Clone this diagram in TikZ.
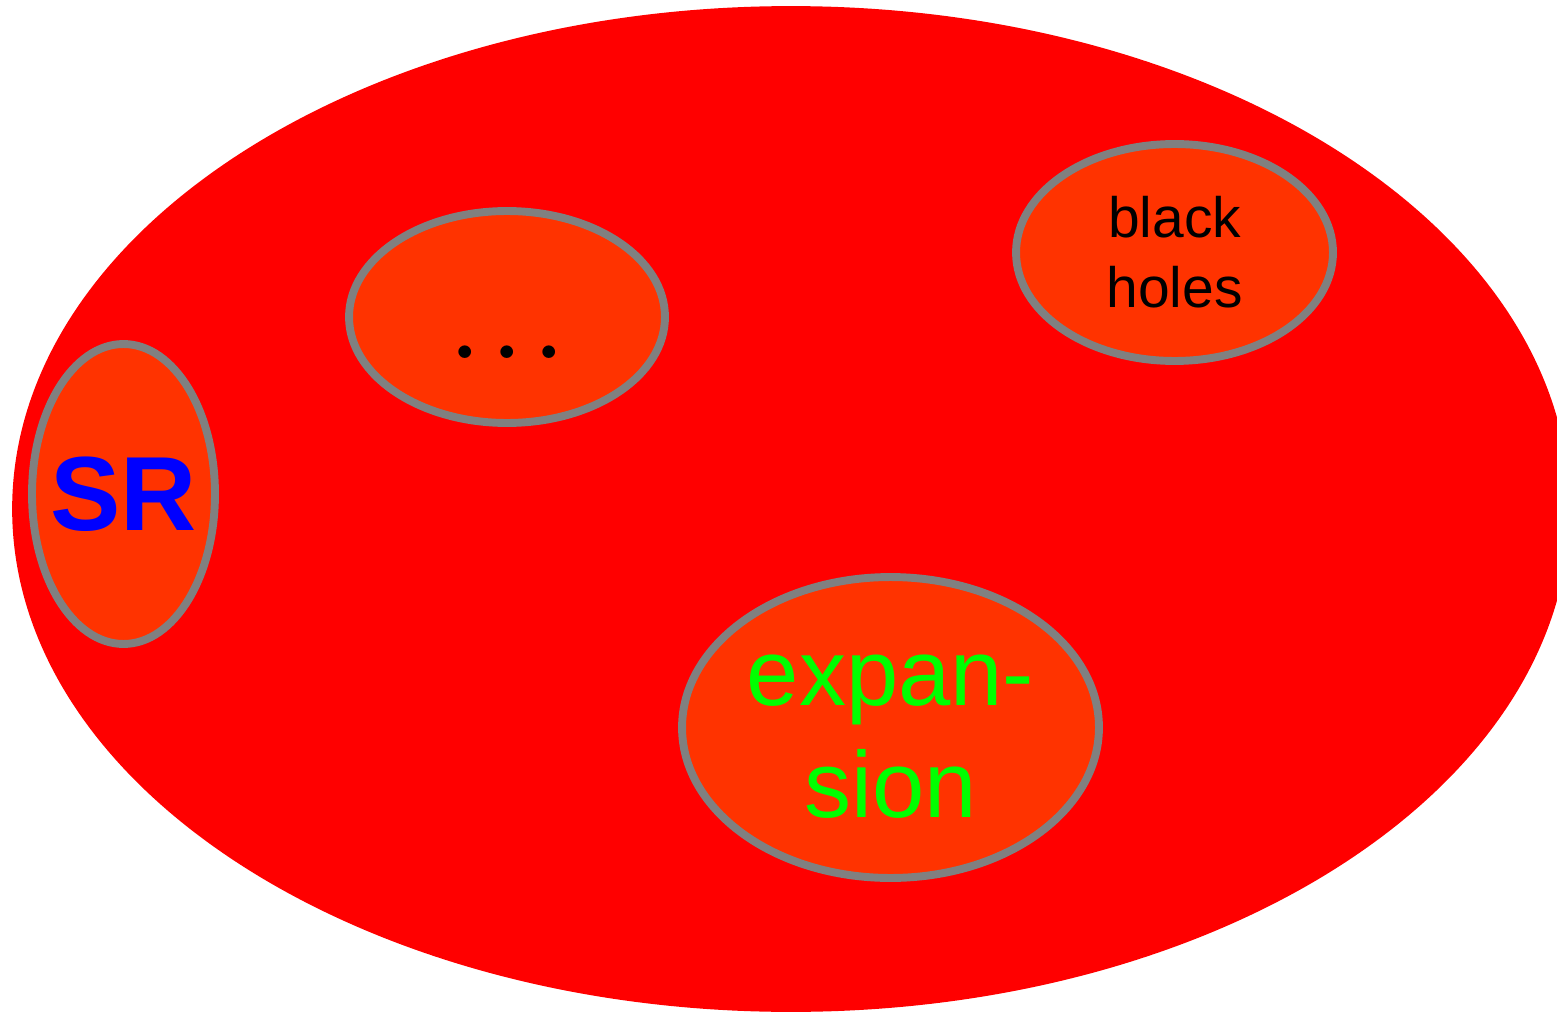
\documentclass[tikz,border=0pt]{standalone}
\usepackage{fontspec}
\setmainfont{Liberation Sans}
\newfontfamily\dotsfont{Latin Modern Roman}
\usetikzlibrary{shapes.geometric}

\definecolor{setred}{HTML}{FF0000}
\definecolor{subsetfill}{HTML}{FF3300}

\begin{document}
\begin{tikzpicture}[
  x=0.02cm, y=-0.02cm,
  universe/.style={ellipse, fill=setred, inner sep=0pt, minimum width=31.16cm, minimum height=20.12cm},
  subset/.style={ellipse, draw=gray, fill=subsetfill, line width=4.5pt, inner sep=0pt},
  big_label/.style={inner sep=0pt, font=\fontsize{60}{72}\selectfont\bfseries},
  dots_label/.style={inner sep=0pt, font=\fontsize{50}{60}\dotsfont\bfseries},
  small_label/.style={inner sep=0pt, align=center, font=\fontsize{32.4}{39.8}\selectfont},
  mid_label/.style={inner sep=0pt, align=center, text=green, font=\fontsize{53.5}{63.7}\selectfont}
]
\useasboundingbox (0,0) rectangle (1557,1013);
\clip (0,0) rectangle (1557,1013);

% Sets
\node[universe] (physics) at (791,509) {};
\node[subset, minimum width=3.66cm, minimum height=6cm] (sr) at (123.5,494) {};
\node[subset, minimum width=6.32cm, minimum height=4.24cm] (etc) at (507,317) {};
\node[subset, minimum width=6.34cm, minimum height=4.34cm] (bh) at (1174.5,252.5) {};
\node[subset, minimum width=8.34cm, minimum height=6.02cm] (exp) at (890.5,727.5) {};

% Labels
\node[big_label, text=blue] (sr_label) at (sr) {SR};
\node[dots_label] (etc_label) at (507,352) {.\kern.1667em.\kern.1667em.};
\node[small_label] (bh_label) at (bh) {black\\holes};
\node[mid_label] (exp_label) at (890.5,737) {expan-\\sion};

\end{tikzpicture}
\end{document}
